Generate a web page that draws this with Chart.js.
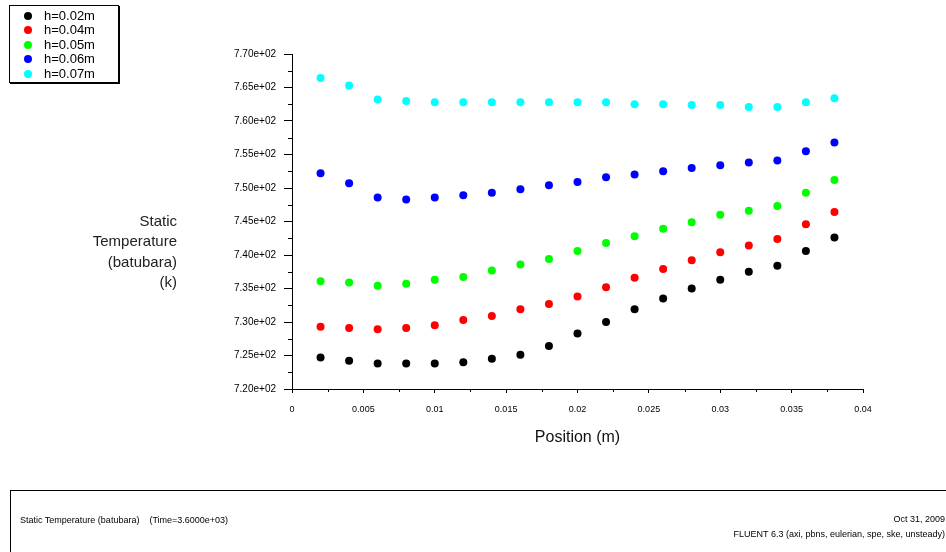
<!DOCTYPE html>
<html>
<head>
<meta charset="utf-8">
<script src="https://cdn.jsdelivr.net/npm/chart.js@4"></script>
<style>
  html, body { margin: 0; padding: 0; background: #fff; }
  body { width: 946px; height: 552px; position: relative; overflow: hidden; font-family: "Liberation Sans", Arial, sans-serif; }
  #wrap { position: absolute; left: 0; top: 0; width: 946px; height: 552px; }
  #legend { position: absolute; left: 9px; top: 5px; width: 108px; height: 76px; border: 1px solid #000; box-shadow: 1px 1px 0 #000; background: #fff; }
  .li { position: absolute; left: 0; height: 14px; font-size: 13px; line-height: 14px; color: #000; }
  .li span.dot { position: absolute; left: 14px; top: 3px; width: 8px; height: 8px; border-radius: 50%; }
  .li span.t { position: absolute; left: 34px; top: 0; white-space: nowrap; }
  #ytitle { position: absolute; right: 769px; top: 211px; text-align: right; font-size: 15px; line-height: 20.3px; color: #222; white-space: nowrap; }
  #footer { position: absolute; left: 10px; top: 490px; width: 960px; height: 80px; border-left: 1px solid #000; border-top: 1px solid #000; }
  .ft { position: absolute; font-size: 9px; color: #000; white-space: nowrap; }
</style>
</head>
<body>
<div id="wrap"><canvas id="c" width="946" height="552"></canvas></div>
<div id="legend"></div>
<div id="ytitle">Static<br>Temperature<br>(batubara)<br>(k)</div>
<div id="footer">
  <div class="ft" style="left:9px; top:24px;">Static Temperature (batubara)&nbsp;&nbsp;&nbsp;&nbsp;(Time=3.6000e+03)</div>
  <div class="ft" style="right:26px; top:23px;">Oct 31, 2009</div>
  <div class="ft" style="right:26px; top:38px;">FLUENT 6.3 (axi, pbns, eulerian, spe, ske, unsteady)</div>
</div>
<script>
// ---- data ----
const positions = [0.002, 0.004, 0.006, 0.008, 0.010, 0.012, 0.014, 0.016, 0.018, 0.020,
                   0.022, 0.024, 0.026, 0.028, 0.030, 0.032, 0.034, 0.036, 0.038];
const seriesLabels = ['h=0.02m', 'h=0.04m', 'h=0.05m', 'h=0.06m', 'h=0.07m'];
const seriesColors = ['#000000', '#ff0000', '#00ff00', '#0000ff', '#00ffff'];
const tempH002 = [724.7, 724.2, 723.8, 723.8, 723.8, 724.0, 724.5, 725.1, 726.4, 728.3, 730.0, 731.9, 733.5, 735.0, 736.3, 737.5, 738.4, 740.6, 742.6];
const tempH004 = [729.3, 729.1, 728.9, 729.1, 729.5, 730.3, 730.9, 731.9, 732.7, 733.8, 735.2, 736.6, 737.9, 739.2, 740.4, 741.4, 742.4, 744.6, 746.4];
const tempH005 = [736.1, 735.9, 735.4, 735.7, 736.3, 736.7, 737.7, 738.6, 739.4, 740.6, 741.8, 742.8, 743.9, 744.9, 746.0, 746.6, 747.3, 749.3, 751.2];
const tempH006 = [752.2, 750.7, 748.6, 748.3, 748.6, 748.9, 749.3, 749.8, 750.4, 750.9, 751.6, 752.0, 752.5, 753.0, 753.4, 753.8, 754.1, 755.5, 756.8];
const tempH007 = [766.4, 765.3, 763.2, 763.0, 762.8, 762.8, 762.8, 762.8, 762.8, 762.8, 762.8, 762.5, 762.5, 762.4, 762.4, 762.1, 762.1, 762.8, 763.4];
const yTickValues = [720, 725, 730, 735, 740, 745, 750, 755, 760, 765, 770];
const yTickLabels = ['7.20e+02', '7.25e+02', '7.30e+02', '7.35e+02', '7.40e+02', '7.45e+02', '7.50e+02', '7.55e+02', '7.60e+02', '7.65e+02', '7.70e+02'];
const yMinorTicks = [722.5, 727.5, 732.5, 737.5, 742.5, 747.5, 752.5, 757.5, 762.5, 767.5];
const xTickValues = [0, 0.005, 0.01, 0.015, 0.02, 0.025, 0.03, 0.035, 0.04];
const xTickLabels = ['0', '0.005', '0.01', '0.015', '0.02', '0.025', '0.03', '0.035', '0.04'];
const xMinorTicks = [0.0025, 0.0075, 0.0125, 0.0175, 0.0225, 0.0275, 0.0325, 0.0375];
const allSeries = [tempH002, tempH004, tempH005, tempH006, tempH007];

// ---- legend (HTML) ----
const lg = document.getElementById('legend');
seriesLabels.forEach((lab, i) => {
  const d = document.createElement('div');
  d.className = 'li';
  d.style.top = (3 + i * 14.4) + 'px';
  d.innerHTML = '<span class="dot" style="background:' + seriesColors[i] + '"></span><span class="t">' + lab + '</span>';
  lg.appendChild(d);
});

const datasets = allSeries.map((arr, i) => ({
  label: seriesLabels[i],
  data: positions.map((x, j) => ({ x: x, y: arr[j] })),
  backgroundColor: seriesColors[i],
  borderColor: seriesColors[i],
  borderWidth: 0,
  pointRadius: 4,
  pointHoverRadius: 4,
  showLine: false
}));

const minorTicks = {
  id: 'minorTicks',
  afterDraw(chart) {
    const ctx = chart.ctx, xs = chart.scales.x, ys = chart.scales.y;
    ctx.save();
    ctx.strokeStyle = '#000';
    ctx.lineWidth = 1;
    ctx.beginPath();
    yMinorTicks.forEach(v => {
      const p = Math.round(ys.getPixelForValue(v)) + 0.5;
      ctx.moveTo(ys.right - 4, p); ctx.lineTo(ys.right, p);
    });
    xMinorTicks.forEach(v => {
      const p = Math.round(xs.getPixelForValue(v)) + 0.5;
      ctx.moveTo(p, xs.top); ctx.lineTo(p, xs.top + 3);
    });
    ctx.stroke();
    ctx.restore();
  }
};

new Chart(document.getElementById('c'), {
  type: 'scatter',
  data: { datasets },
  options: {
    responsive: false,
    animation: false,
    events: [],
    layout: { padding: { left: 0, right: 83, top: 54, bottom: 105 } },
    plugins: { legend: { display: false }, tooltip: { enabled: false } },
    scales: {
      x: {
        type: 'linear', min: 0, max: 0.04,
        afterBuildTicks(scale) { scale.ticks = xTickValues.map(v => ({ value: v })); },
        afterFit(scale) { scale.height = 58; },
        ticks: {
          autoSkip: false, maxRotation: 0, padding: 11, color: '#000',
          font: { family: '"Liberation Sans", Arial, sans-serif', size: 9 },
          callback: (v, i) => xTickLabels[i]
        },
        grid: { drawOnChartArea: false, drawTicks: true, tickLength: 4, color: '#000', tickColor: '#000' },
        border: { display: true, color: '#000', width: 1 },
        title: { display: true, text: 'Position (m)', color: '#111', padding: 0,
                 font: { family: '"Liberation Sans", Arial, sans-serif', size: 16 } }
      },
      y: {
        type: 'linear', min: 720, max: 770,
        afterBuildTicks(scale) { scale.ticks = yTickValues.map(v => ({ value: v })); },
        afterFit(scale) { scale.width = 292; },
        ticks: {
          autoSkip: false, padding: 8, color: '#000',
          font: { family: '"Liberation Sans", Arial, sans-serif', size: 10 },
          callback: (v, i) => yTickLabels[i]
        },
        grid: { drawOnChartArea: false, drawTicks: true, tickLength: 8, color: '#000', tickColor: '#000' },
        border: { display: true, color: '#000', width: 1 }
      }
    }
  },
  plugins: [minorTicks]
});
</script>
</body>
</html>
